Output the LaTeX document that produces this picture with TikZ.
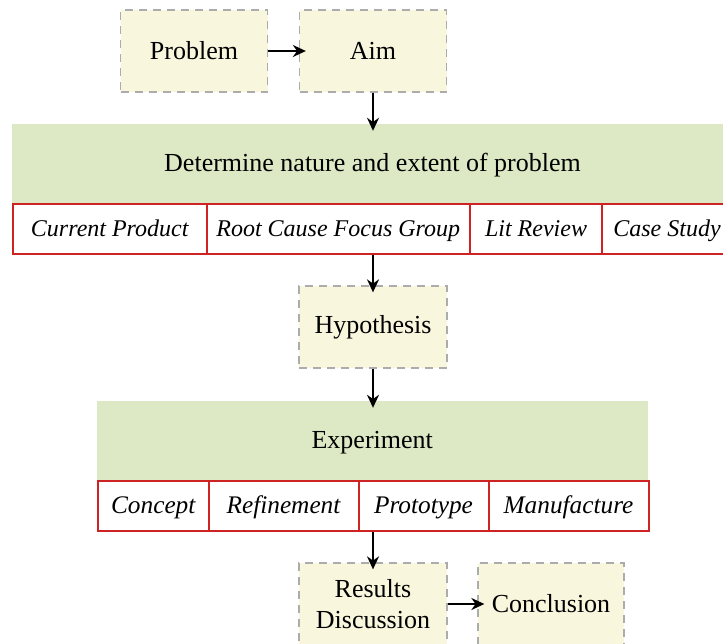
\documentclass[tikz,border=0pt]{standalone}
\usepackage{fontspec}
\setmainfont{Liberation Serif}
\usetikzlibrary{arrows.meta}
\definecolor{boxfill}{RGB}{248,247,222}
\definecolor{dashgray}{RGB}{172,172,172}
\definecolor{bandgreen}{RGB}{221,233,196}
\definecolor{cellred}{RGB}{205,35,35}
\begin{document}
\begin{tikzpicture}[x=1pt,y=-1pt,
  stepbox/.style={draw=dashgray, fill=boxfill, dash pattern=on 8pt off 6pt, line width=1.3pt,
    inner sep=0pt, minimum height=82pt, font=\fontsize{26}{31}\selectfont, align=center},
  band/.style={fill=bandgreen, draw=none, inner sep=0pt, font=\fontsize{26}{31}\selectfont,
    text height=19pt, text depth=4pt},
  cellA/.style={draw=cellred, fill=white, line width=2pt, inner sep=0pt, anchor=west,
    minimum height=50pt, font=\fontsize{24}{28}\selectfont\itshape,
    text height=19pt, text depth=4pt},
  cellB/.style={draw=cellred, fill=white, line width=2pt, inner sep=0pt, anchor=west,
    minimum height=49.5pt, font=\fontsize{25.3}{30}\selectfont\itshape,
    text height=19pt, text depth=3.5pt},
  arr/.style={-{Stealth[length=13pt,width=12pt]}, line width=2pt, shorten >=-7pt},
]
\useasboundingbox (0,0) rectangle (723,643);
\clip (0,0) rectangle (723,643);
\fill[white] (0,0) rectangle (723,643);

% top boxes
\node[stepbox, minimum width=147pt] (prob) at (194,51) {Problem};
\node[stepbox, minimum width=147pt] (aim) at (373,51) {Aim};

% first band
\node[band, minimum width=721pt, minimum height=79.5pt] (det) at (372.5,163.75) {Determine nature and extent of problem};
\node[cellA, minimum width=193.5pt] (c1) at (12,228.5) {Current Product};
\node[cellA, minimum width=263.5pt] (c2) at (205.5,228.5) {Root Cause Focus Group};
\node[cellA, minimum width=132pt] (c3) at (469,228.5) {Lit Review};
\node[cellA, minimum width=130pt] (c4) at (601,228.5) {Case Study};

% hypothesis
\node[stepbox, minimum width=148pt] (hyp) at (373,327) {Hypothesis};

% second band
\node[band, minimum width=550.5pt, minimum height=80pt] (exp) at (372.25,441) {Experiment};
\node[cellB, minimum width=110.5pt] (d1) at (97,505.75) {Concept};
\node[cellB, minimum width=150pt] (d2) at (207.5,505.75) {Refinement};
\node[cellB, minimum width=130pt] (d3) at (357.5,505.75) {Prototype};
\node[cellB, minimum width=160pt] (d4) at (487.5,505.75) {Manufacture};

% bottom boxes
\node[stepbox, minimum width=148pt] (res) at (373,604) {Results\\Discussion};
\node[stepbox, minimum width=146pt] (conc) at (551,604) {Conclusion};

% connectors
\draw[arr] (prob.east) -- (aim.west);
\draw[arr] (aim.south) -- (aim.south |- det.north);
\draw[arr] (c2.south -| hyp.north) -- (hyp.north);
\draw[arr] (hyp.south) -- (hyp.south |- exp.north);
\draw[arr] (d3.south -| res.north) -- (res.north);
\draw[arr] (res.east) -- (conc.west);
\end{tikzpicture}
\end{document}
